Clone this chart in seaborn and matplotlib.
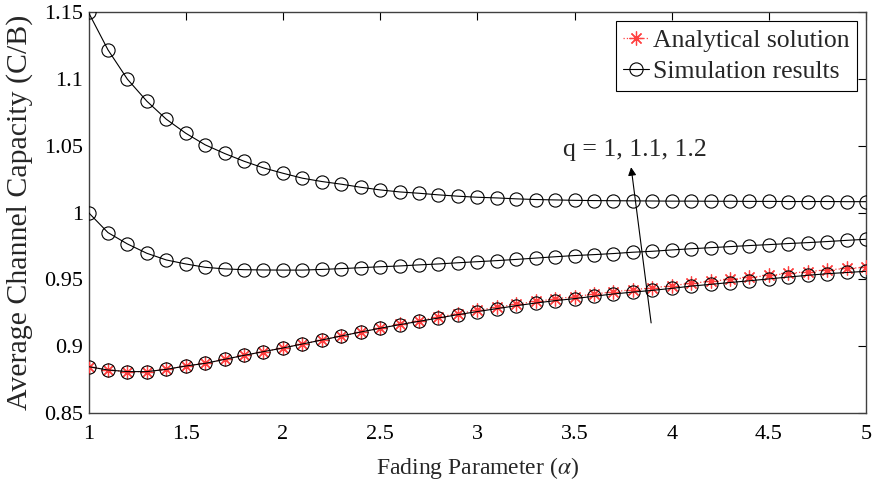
import numpy as np
import pandas as pd
import matplotlib
matplotlib.use("Agg")
import matplotlib.pyplot as plt
import seaborn as sns

alpha = [1.0, 1.1, 1.2, 1.3, 1.4, 1.5, 1.6, 1.7, 1.8, 1.9,
         2.0, 2.1, 2.2, 2.3, 2.4, 2.5, 2.6, 2.7, 2.8, 2.9,
         3.0, 3.1, 3.2, 3.3, 3.4, 3.5, 3.6, 3.7, 3.8, 3.9,
         4.0, 4.1, 4.2, 4.3, 4.4, 4.5, 4.6, 4.7, 4.8, 4.9, 5.0]

sim_q12 = [1.150, 1.122, 1.100, 1.0835, 1.070, 1.0595, 1.0508, 1.0443, 1.0385, 1.0335,
           1.0295, 1.0258, 1.0233, 1.0213, 1.0190, 1.0170, 1.0155, 1.0145, 1.0133, 1.0123,
           1.0115, 1.0110, 1.0103, 1.0098, 1.0095, 1.0092, 1.0090, 1.0089, 1.0088, 1.0087,
           1.0086, 1.0086, 1.0085, 1.0085, 1.0084, 1.0084, 1.0083, 1.0083, 1.0083, 1.0082, 1.0082]

sim_q11 = [1.000, 0.9850, 0.9765, 0.9695, 0.9645, 0.9615, 0.9590, 0.9578, 0.9572, 0.9570,
           0.9569, 0.9569, 0.9574, 0.9580, 0.9587, 0.9594, 0.9600, 0.9608, 0.9615, 0.9624,
           0.9632, 0.9640, 0.9649, 0.9659, 0.9669, 0.9678, 0.9685, 0.9693, 0.9703, 0.9710,
           0.9720, 0.9729, 0.9737, 0.9745, 0.9753, 0.9760, 0.9768, 0.9775, 0.9783, 0.9792, 0.9800]

sim_q1 = [0.8845, 0.8820, 0.8808, 0.8808, 0.8825, 0.8850, 0.8870, 0.8900, 0.8930, 0.8958,
          0.8985, 0.9015, 0.9045, 0.9075, 0.9105, 0.9133, 0.9160, 0.9185, 0.9210, 0.9235,
          0.9258, 0.9280, 0.9302, 0.9322, 0.9340, 0.9355, 0.9373, 0.9390, 0.9404, 0.9417,
          0.9432, 0.9449, 0.9462, 0.9476, 0.9489, 0.9503, 0.9517, 0.9530, 0.9542, 0.9551, 0.9560]

ana_q1 = [0.8845, 0.8820, 0.8808, 0.8808, 0.8825, 0.8850, 0.8870, 0.8900, 0.8930, 0.8958,
          0.8985, 0.9015, 0.9045, 0.9075, 0.9105, 0.9133, 0.9163, 0.9190, 0.9217, 0.9243,
          0.9267, 0.9290, 0.9313, 0.9334, 0.9353, 0.9370, 0.9389, 0.9407, 0.9422, 0.9436,
          0.9452, 0.9470, 0.9485, 0.9500, 0.9514, 0.9529, 0.9544, 0.9558, 0.9571, 0.9581, 0.9590]

xticks = [1, 1.5, 2, 2.5, 3, 3.5, 4, 4.5, 5]
xticklabels = ["1", "1.5", "2", "2.5", "3", "3.5", "4", "4.5", "5"]
yticks = [0.85, 0.9, 0.95, 1.0, 1.05, 1.1, 1.15]
yticklabels = ["0.85", "0.9", "0.95", "1", "1.05", "1.1", "1.15"]

sns.set_style("white")
plt.rcParams["font.family"] = ["Liberation Serif", "DejaVu Serif"]
plt.rcParams["mathtext.fontset"] = "stix"

fig = plt.figure(figsize=(8.74, 4.88), dpi=100)
ax = fig.add_axes([0.1013, 0.1543, 0.8897, 0.8201])

sim_kw = dict(color="black", marker="o", markersize=9.5, markerfacecolor="none",
              markeredgecolor="black", markeredgewidth=0.8, linewidth=0.8, estimator=None)

df1 = pd.DataFrame({"alpha": alpha, "cap": ana_q1})
sns.lineplot(data=df1, x="alpha", y="cap", ax=ax, color="#ff4040", linestyle=":",
             linewidth=0.9, marker=(8, 2, 0), markersize=10, markeredgecolor="#ff4040",
             markeredgewidth=0.9, estimator=None, label="Analytical solution", zorder=3)

for i, vals in enumerate([sim_q1, sim_q11, sim_q12]):
    d = pd.DataFrame({"alpha": alpha, "cap": vals})
    sns.lineplot(data=d, x="alpha", y="cap", ax=ax,
                 label="Simulation results" if i == 0 else None, zorder=4, **sim_kw)

ax.set_xlim(1, 5)
ax.set_ylim(0.85, 1.15)
ax.set_xticks(xticks)
ax.set_xticklabels(xticklabels)
ax.set_yticks(yticks)
ax.set_yticklabels(yticklabels)
ax.tick_params(direction="in", top=True, right=True, length=6, width=0.8,
               labelsize=16, colors="black")
ax.tick_params(axis="x", pad=9)
ax.tick_params(axis="y", pad=4)
for s in ax.spines.values():
    s.set_visible(True)
    s.set_color("#404040")
    s.set_linewidth(1.0)

ax.set_xlabel(r"Fading Parameter ($\alpha$)", fontsize=17, labelpad=8)
ax.set_ylabel("Average Channel Capacity (C/B)", fontsize=21.5, labelpad=8)

ax.annotate("", xy=(3.791, 1.034), xytext=(3.894, 0.9173),
            arrowprops=dict(arrowstyle="-|>", color="black", lw=0.8,
                            mutation_scale=12, shrinkA=0, shrinkB=0))
ax.text(3.439, 1.047, "q = 1, 1.1, 1.2", fontsize=18.5, ha="left", va="center")

h, l = ax.get_legend_handles_labels()
leg = ax.legend(h, l, loc="upper right", fontsize=18.5, frameon=True, fancybox=False,
                framealpha=1, edgecolor="black", handlelength=1.0, handletextpad=0.15,
                borderpad=0.3, labelspacing=0.3, borderaxespad=0.35)
leg.get_frame().set_linewidth(0.8)

fig.savefig("out.png", dpi=100)
